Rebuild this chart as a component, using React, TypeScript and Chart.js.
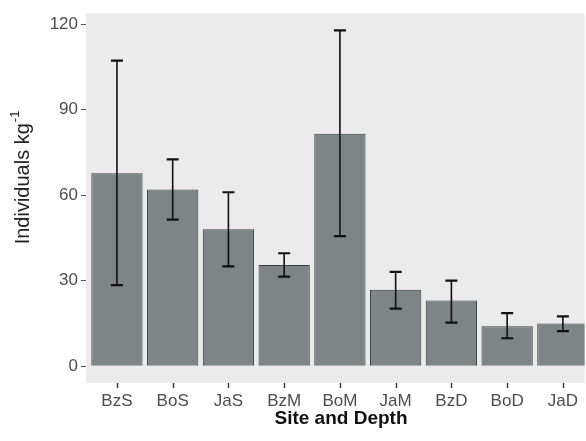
import React, { useEffect, useRef } from "react";
import { Chart, registerables } from "chart.js";

Chart.register(...registerables);

const categories = ["BzS", "BoS", "JaS", "BzM", "BoM", "JaM", "BzD", "BoD", "JaD"];
const means = [67.7, 62.0, 48.0, 35.5, 81.5, 26.8, 23.0, 14.0, 15.0];
const errLow = [28.4, 51.4, 35.0, 31.4, 45.6, 20.2, 15.3, 9.8, 12.3];
const errHigh = [107.2, 72.5, 61.0, 39.6, 117.8, 33.1, 30.0, 18.6, 17.5];
const yTicks = [0, 30, 60, 90, 120];

const FONT = "'Liberation Sans', Arial, sans-serif";

const panelPlugin = {
  id: "panel",
  beforeDraw(chart: any) {
    const { ctx, chartArea, width, height } = chart;
    ctx.save();
    ctx.fillStyle = "#ffffff";
    ctx.fillRect(0, 0, width, height);
    ctx.fillStyle = "#EBEBEB";
    ctx.fillRect(chartArea.left, chartArea.top, chartArea.right - chartArea.left, chartArea.bottom - chartArea.top);
    ctx.restore();
  },
};

const errorPlugin = {
  id: "errbars",
  afterDatasetsDraw(chart: any) {
    const { ctx } = chart;
    const xs = chart.scales.x;
    const ys = chart.scales.y;
    ctx.save();
    categories.forEach((_, i) => {
      const x = xs.getPixelForValue(i);
      const yl = ys.getPixelForValue(errLow[i]);
      const yh = ys.getPixelForValue(errHigh[i]);
      ctx.strokeStyle = "#111111";
      ctx.lineWidth = 1.6;
      ctx.beginPath();
      ctx.moveTo(x, yl);
      ctx.lineTo(x, yh);
      ctx.stroke();
      ctx.lineWidth = 2.2;
      ctx.beginPath();
      ctx.moveTo(x - 6, yl);
      ctx.lineTo(x + 6, yl);
      ctx.moveTo(x - 6, yh);
      ctx.lineTo(x + 6, yh);
      ctx.stroke();
    });
    ctx.restore();
  },
};

const titlePlugin = {
  id: "titles",
  afterDraw(chart: any) {
    const { ctx, chartArea } = chart;
    const xs = chart.scales.x;
    ctx.save();
    ctx.strokeStyle = "#333333";
    ctx.lineWidth = 1.4;
    categories.forEach((_, i) => {
      const x = Math.round(xs.getPixelForValue(i)) + 0.5;
      ctx.beginPath();
      ctx.moveTo(x, chartArea.bottom);
      ctx.lineTo(x, chartArea.bottom + 5);
      ctx.stroke();
    });

    ctx.fillStyle = "#111111";
    ctx.font = `bold 19px ${FONT}`;
    ctx.textAlign = "center";
    ctx.textBaseline = "middle";
    ctx.fillText("Site and Depth", 341, 419);

    ctx.translate(23, 178);
    ctx.rotate(-Math.PI / 2);
    ctx.fillStyle = "#222222";
    const main = "Individuals kg";
    const sup = "-1";
    ctx.font = `20px ${FONT}`;
    const w1 = ctx.measureText(main).width;
    ctx.font = `13px ${FONT}`;
    const w2 = ctx.measureText(sup).width;
    const start = -(w1 + w2) / 2;
    ctx.textAlign = "left";
    ctx.textBaseline = "middle";
    ctx.font = `20px ${FONT}`;
    ctx.fillText(main, start, 0);
    ctx.font = `13px ${FONT}`;
    ctx.fillText(sup, start + w1 + 1, -8);
    ctx.restore();
  },
};

export default function App() {
  const ref = useRef<HTMLCanvasElement | null>(null);
  useEffect(() => {
    if (!ref.current) return;
    const chart = new Chart(ref.current, {
      type: "bar",
      data: {
        datasets: [
          {
            data: means.map((v, i) => ({ x: i, y: v })),
            backgroundColor: "#7E8586",
            borderColor: "#3A3D3E",
            borderWidth: 1,
            barPercentage: 0.92,
            categoryPercentage: 1,
          },
        ],
      },
      options: {
        responsive: false,
        animation: false,
        layout: { padding: { top: 13, right: 0, left: 0, bottom: 0 } },
        plugins: { legend: { display: false }, tooltip: { enabled: false } },
        scales: {
          x: {
            type: "linear",
            offset: false,
            min: -0.555,
            max: 8.39,
            afterBuildTicks: (s: any) => {
              s.ticks = categories.map((_, i) => ({ value: i }));
            },
            afterFit: (s: any) => {
              s.height = 58;
            },
            ticks: {
              autoSkip: false,
              maxRotation: 0,
              padding: 8,
              color: "#4D4D4D",
              font: { family: FONT, size: 17 },
              callback: (v: any) => categories[v] ?? "",
            },
            grid: { offset: false, drawOnChartArea: false, drawTicks: false },
            border: { display: false },
          },
          y: {
            min: -5.9,
            max: 123.8,
            afterBuildTicks: (s: any) => {
              s.ticks = yTicks.map((v) => ({ value: v }));
            },
            afterFit: (s: any) => {
              s.width = 86;
            },
            ticks: {
              padding: 3,
              color: "#4D4D4D",
              font: { family: FONT, size: 17 },
              callback: (v: any) => String(v),
            },
            grid: { drawOnChartArea: false, drawTicks: true, tickLength: 5, color: "#555555" },
            border: { display: false },
          },
        },
      },
      plugins: [panelPlugin, errorPlugin, titlePlugin],
    });
    return () => chart.destroy();
  }, []);
  return (
    <div style={{ position: "fixed", left: 0, top: 0, width: 586, height: 441, overflow: "hidden", background: "#fff" }}>
      <canvas ref={ref} width={586} height={441} style={{ display: "block" }} />
    </div>
  );
}
